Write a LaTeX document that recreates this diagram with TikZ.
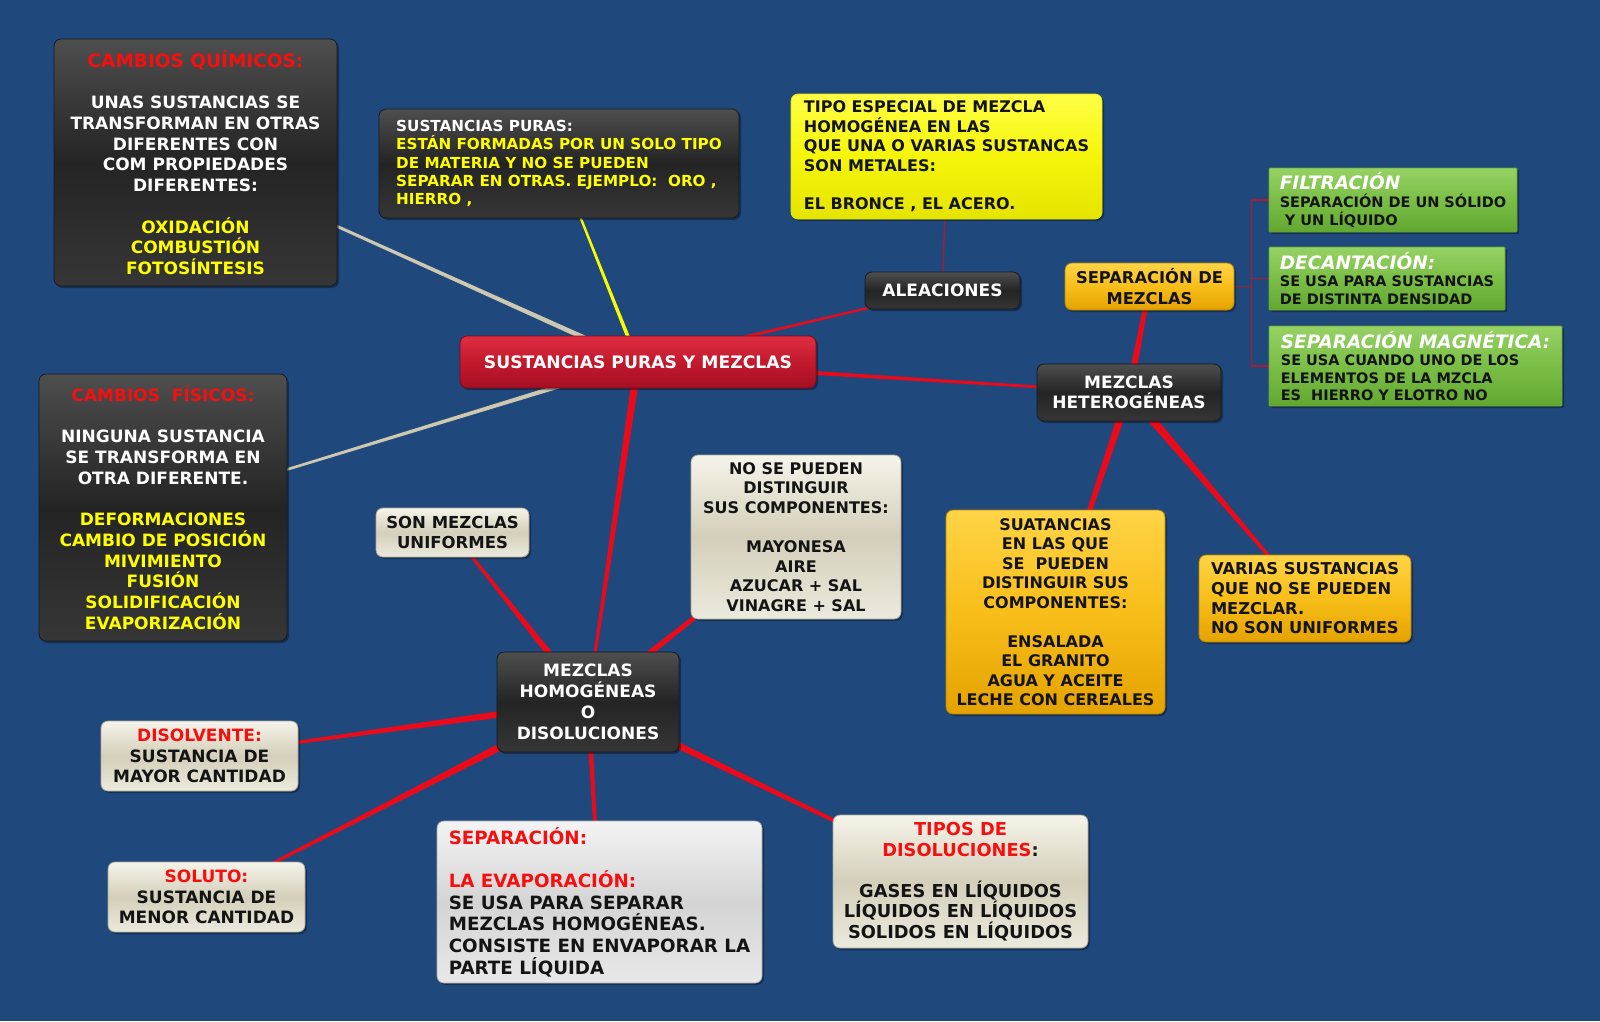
\documentclass[tikz,border=0pt]{standalone}
\usepackage{fontspec}
\setmainfont{DejaVu Sans}
\usetikzlibrary{calc,shadows}
\definecolor{bgblue}{RGB}{31,73,125}
\definecolor{dkA}{RGB}{78,78,78}
\definecolor{dkB}{RGB}{36,36,36}
\definecolor{dkC}{RGB}{54,54,54}
\definecolor{dkL}{RGB}{25,25,25}
\definecolor{rdA}{RGB}{222,45,65}
\definecolor{rdB}{RGB}{195,25,45}
\definecolor{rdC}{RGB}{165,15,35}
\definecolor{rdL}{RGB}{120,10,25}
\definecolor{ywA}{RGB}{255,255,70}
\definecolor{ywB}{RGB}{245,245,10}
\definecolor{ywC}{RGB}{228,228,0}
\definecolor{orA}{RGB}{255,212,70}
\definecolor{orB}{RGB}{248,190,25}
\definecolor{orC}{RGB}{228,162,0}
\definecolor{grA}{RGB}{150,210,100}
\definecolor{grB}{RGB}{122,190,70}
\definecolor{grC}{RGB}{98,168,48}
\definecolor{beA}{RGB}{246,244,234}
\definecolor{beB}{RGB}{212,207,186}
\definecolor{beC}{RGB}{236,234,222}
\definecolor{lgA}{RGB}{244,244,244}
\definecolor{lgB}{RGB}{212,212,212}
\definecolor{lgC}{RGB}{232,232,232}
\definecolor{conred}{RGB}{235,10,25}
\definecolor{conbeige}{RGB}{205,200,175}
\definecolor{conyel}{RGB}{250,250,0}
\definecolor{brkred}{RGB}{175,25,45}
\definecolor{titred}{RGB}{245,15,15}
\definecolor{txyel}{RGB}{255,255,0}
\definecolor{txdark}{RGB}{20,20,20}
\newcommand\rt[1]{\textcolor{titred}{#1}}
\newcommand\yt[1]{\textcolor{txyel}{#1}}
\newcommand\gt[1]{{\fontsize{18.5}{18.5}\selectfont\itshape\color{white}#1}}
\newcommand\wedgeconn[5]{%
  \fill[#1] ($(#2.center)!#4!90:(#3.center)$) -- ($(#3.center)!#5!-90:(#2.center)$)
    -- ($(#3.center)!#5!90:(#2.center)$) -- ($(#2.center)!#4!-90:(#3.center)$) -- cycle;}
\pgfdeclarelayer{bg}
\pgfdeclarelayer{lines}
\pgfsetlayers{bg,lines,main}
\begin{document}
\begin{tikzpicture}[x=1pt,y=-1pt,
  fs/.style 2 args={font=\fontsize{#1}{#2}\selectfont\bfseries},
  box/.style={rounded corners=7pt, inner sep=0pt, line width=0.8pt, align=center,
    drop shadow={shadow xshift=2pt,shadow yshift=-2pt,opacity=0.35,fill=black}},
  dark/.style={box, top color=dkA, bottom color=dkC, middle color=dkB, draw=dkL, text=white},
  mainbox/.style={box, top color=rdA, bottom color=rdC, middle color=rdB, draw=rdL, text=white},
  yellowbox/.style={box, top color=ywA, bottom color=ywC, middle color=ywB, draw=ywC, text=txdark},
  orangebox/.style={box, top color=orA, bottom color=orC, middle color=orB, draw=orC!80!black, text=txdark},
  greenbox/.style={box, rounded corners=1pt, top color=grA, bottom color=grC, middle color=grB, draw=grC, text=txdark, align=left, fs={14.5}{17.6}},
  beige/.style={box, top color=beA, bottom color=beC, middle color=beB, draw=beB!80!black, text=txdark},
  graybox/.style={box, top color=lgA, bottom color=lgC, middle color=lgB, draw=lgB!80!black, text=txdark},
  brk/.style={draw=brkred, line width=1.3pt}
]
\begin{pgfonlayer}{bg}
\fill[bgblue] (0,0) rectangle (1600,1021);
\end{pgfonlayer}
\useasboundingbox (0,0) rectangle (1600,1021);

% nodes
\node[dark, fs={17}{20.7}, minimum width=283pt, minimum height=247pt] (chem) at (195.5,162.5)
 {\rt{\fontsize{18.5}{20.7}\selectfont CAMBIOS QUÍMICOS:}\\~\\UNAS SUSTANCIAS SE\\TRANSFORMAN EN OTRAS\\DIFERENTES CON\\COM PROPIEDADES\\DIFERENTES:\\~\\\yt{OXIDACIÓN}\\\yt{COMBUSTIÓN}\\\yt{FOTOSÍNTESIS}};

\node[dark, fs={15.2}{18.4}, align=left, minimum width=360pt, minimum height=109pt] (puras) at (559,163.5)
 {SUSTANCIAS PURAS:\\\yt{ESTÁN FORMADAS POR UN SOLO TIPO}\\\yt{DE MATERIA Y NO SE PUEDEN}\\\yt{SEPARAR EN OTRAS. EJEMPLO:\ \ ORO ,}\\\yt{HIERRO ,}};

\node[yellowbox, fs={16}{19.4}, align=left, minimum width=311pt, minimum height=125pt] (alloyd) at (946.5,156.5)
 {TIPO ESPECIAL DE MEZCLA\\HOMOGÉNEA EN LAS\\QUE UNA O VARIAS SUSTANCAS\\SON METALES:\\~\\EL BRONCE , EL ACERO.};

\node[dark, fs={17}{20}, minimum width=155pt, minimum height=37pt] (aleac) at (942.5,290.5) {ALEACIONES};

\node[orangebox, fs={16.3}{20.4}, minimum width=169pt, minimum height=47pt] (sepmez) at (1149.5,286.5) {SEPARACIÓN DE\\MEZCLAS};

\node[greenbox, minimum width=248pt, minimum height=64pt] (filt) at (1393,200)
 {\gt{FILTRACIÓN}\\SEPARACIÓN DE UN SÓLIDO\\\ Y UN LÍQUIDO};
\node[greenbox, minimum width=236pt, minimum height=63pt] (decant) at (1387,278.5)
 {\gt{DECANTACIÓN:}\\SE USA PARA SUSTANCIAS\\DE DISTINTA DENSIDAD};
\node[greenbox, minimum width=293pt, minimum height=80pt] (magn) at (1415.5,366)
 {\gt{SEPARACIÓN MAGNÉTICA:}\\SE USA CUANDO UNO DE LOS\\ELEMENTOS DE LA MZCLA\\ES\ \ HIERRO Y ELOTRO NO};

\node[mainbox, fs={17.2}{20}, minimum width=356pt, minimum height=52pt] (main) at (638,362) {SUSTANCIAS PURAS Y MEZCLAS};

\node[dark, fs={17}{20.4}, minimum width=184pt, minimum height=57pt] (hetero) at (1129,392.5) {MEZCLAS\\HETEROGÉNEAS};

\node[dark, fs={17}{20.7}, minimum width=248pt, minimum height=267pt] (fis) at (163,507.5)
 {\rt{CAMBIOS\ \ FÍSICOS:}\\~\\NINGUNA SUSTANCIA\\SE TRANSFORMA EN\\OTRA DIFERENTE.\\~\\\yt{DEFORMACIONES}\\\yt{CAMBIO DE POSICIÓN}\\\yt{MIVIMIENTO}\\\yt{FUSIÓN}\\\yt{SOLIDIFICACIÓN}\\\yt{EVAPORIZACIÓN}};

\node[beige, fs={16}{19.6}, minimum width=210pt, minimum height=164pt] (nodist) at (796,537)
 {NO SE PUEDEN\\DISTINGUIR\\SUS COMPONENTES:\\~\\MAYONESA\\AIRE\\AZUCAR + SAL\\VINAGRE + SAL};

\node[beige, fs={16.5}{20.4}, minimum width=153pt, minimum height=49pt] (unif) at (452.5,532.5) {SON MEZCLAS\\UNIFORMES};

\node[orangebox, fs={16}{19.5}, minimum width=219pt, minimum height=204pt] (suat) at (1055.5,612)
 {SUATANCIAS\\EN LAS QUE\\SE\ \ PUEDEN\\DISTINGUIR SUS\\COMPONENTES:\\~\\ENSALADA\\EL GRANITO\\AGUA Y ACEITE\\LECHE CON CEREALES};

\node[orangebox, fs={16.3}{19.7}, align=left, minimum width=212pt, minimum height=87pt] (varias) at (1305,598.5)
 {VARIAS SUSTANCIAS\\QUE NO SE PUEDEN\\MEZCLAR.\\NO SON UNIFORMES};

\node[dark, fs={17}{20.9}, minimum width=182pt, minimum height=100pt] (homog) at (588,702)
 {MEZCLAS\\HOMOGÉNEAS\\O\\DISOLUCIONES};

\node[beige, fs={17}{20.4}, minimum width=197pt, minimum height=70pt] (disolv) at (199.5,756)
 {\rt{DISOLVENTE:}\\SUSTANCIA DE\\MAYOR CANTIDAD};

\node[beige, fs={17}{20.4}, minimum width=197pt, minimum height=70pt] (soluto) at (206.5,897)
 {\rt{SOLUTO:}\\SUSTANCIA DE\\MENOR CANTIDAD};

\node[graybox, fs={18.3}{21.7}, align=left, minimum width=325pt, minimum height=162pt] (sepa) at (599.5,902)
 {\rt{SEPARACIÓN:}\\~\\\rt{LA EVAPORACIÓN:}\\SE USA PARA SEPARAR\\MEZCLAS HOMOGÉNEAS.\\CONSISTE EN ENVAPORAR LA\\PARTE LÍQUIDA};

\node[beige, fs={17.8}{20.5}, minimum width=255pt, minimum height=133pt] (tipos) at (960.5,881.5)
 {\rt{TIPOS DE}\\\rt{DISOLUCIONES}:\\~\\GASES EN LÍQUIDOS\\LÍQUIDOS EN LÍQUIDOS\\SOLIDOS EN LÍQUIDOS};

% connectors
\begin{pgfonlayer}{lines}
\wedgeconn{conbeige}{main}{chem}{2.6pt}{0.9pt}
\wedgeconn{conbeige}{main}{fis}{2.4pt}{0.9pt}
\wedgeconn{conyel}{main}{puras}{2pt}{0.8pt}
\wedgeconn{conred}{main}{aleac}{1.7pt}{0.9pt}
\wedgeconn{conred}{main}{hetero}{2.4pt}{1.1pt}
\wedgeconn{conred}{main}{homog}{3.8pt}{1.1pt}
\wedgeconn{conred}{hetero}{sepmez}{3.5pt}{2pt}
\wedgeconn{conred}{hetero}{suat}{4pt}{1.2pt}
\wedgeconn{conred}{hetero}{varias}{4.5pt}{1pt}
\wedgeconn{conred}{homog}{unif}{4pt}{1pt}
\wedgeconn{conred}{homog}{nodist}{3.6pt}{1pt}
\wedgeconn{conred}{homog}{disolv}{4pt}{0.8pt}
\wedgeconn{conred}{homog}{soluto}{4.5pt}{0.8pt}
\wedgeconn{conred}{homog}{sepa}{2.6pt}{1.4pt}
\wedgeconn{conred}{homog}{tipos}{4pt}{0.8pt}
\draw[draw=brkred, line width=1.3pt] (alloyd) -- (aleac);
\draw[brk] (sepmez.east) -- ++(17,0) coordinate (bj);
\draw[brk] (bj |- filt.west) -- (bj |- magn.west);
\draw[brk] (bj |- filt.west) -- (filt.west);
\draw[brk] (bj |- decant.west) -- (decant.west);
\draw[brk] (bj |- magn.west) -- (magn.west);
\end{pgfonlayer}
\end{tikzpicture}
\end{document}
